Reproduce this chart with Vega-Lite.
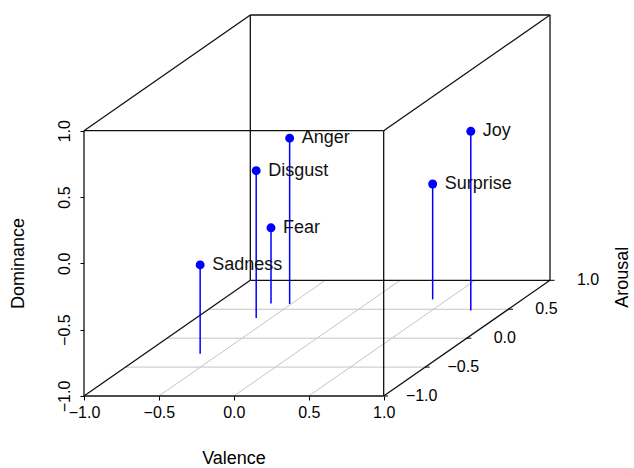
{
  "$schema": "https://vega.github.io/schema/vega-lite/v6.json",
  "autosize": "none",
  "width": 466,
  "height": 381,
  "padding": {"left": 84, "top": 15, "right": 84, "bottom": 72},
  "config": {
    "font": "Liberation Sans",
    "view": {"stroke": null},
    "background": "white"
  },
  "datasets": {
    "emotions": [
      {"name": "Anger", "Valence": -0.51, "Arousal": 0.59, "Dominance": 0.25},
      {"name": "Disgust", "Valence": -0.60, "Arousal": 0.35, "Dominance": 0.11},
      {"name": "Fear", "Valence": -0.64, "Arousal": 0.60, "Dominance": -0.43},
      {"name": "Joy", "Valence": 0.76, "Arousal": 0.48, "Dominance": 0.35},
      {"name": "Sadness", "Valence": -0.63, "Arousal": -0.27, "Dominance": -0.33},
      {"name": "Surprise", "Valence": 0.40, "Arousal": 0.67, "Dominance": -0.13}
    ],
    "edges": [
      {"kind": "grid", "v1": -0.5, "a1": -1, "d1": -1, "v2": -0.5, "a2": 1, "d2": -1},
      {"kind": "grid", "v1": 0, "a1": -1, "d1": -1, "v2": 0, "a2": 1, "d2": -1},
      {"kind": "grid", "v1": 0.5, "a1": -1, "d1": -1, "v2": 0.5, "a2": 1, "d2": -1},
      {"kind": "grid", "v1": -1, "a1": -0.5, "d1": -1, "v2": 1, "a2": -0.5, "d2": -1},
      {"kind": "grid", "v1": -1, "a1": 0, "d1": -1, "v2": 1, "a2": 0, "d2": -1},
      {"kind": "grid", "v1": -1, "a1": 0.5, "d1": -1, "v2": 1, "a2": 0.5, "d2": -1},
      {"kind": "box", "v1": -1, "a1": -1, "d1": -1, "v2": 1, "a2": -1, "d2": -1},
      {"kind": "box", "v1": -1, "a1": -1, "d1": 1, "v2": 1, "a2": -1, "d2": 1},
      {"kind": "box", "v1": -1, "a1": -1, "d1": -1, "v2": -1, "a2": -1, "d2": 1},
      {"kind": "box", "v1": 1, "a1": -1, "d1": -1, "v2": 1, "a2": -1, "d2": 1},
      {"kind": "box", "v1": -1, "a1": -1, "d1": 1, "v2": -1, "a2": 1, "d2": 1},
      {"kind": "box", "v1": 1, "a1": -1, "d1": 1, "v2": 1, "a2": 1, "d2": 1},
      {"kind": "box", "v1": -1, "a1": 1, "d1": 1, "v2": 1, "a2": 1, "d2": 1},
      {"kind": "box", "v1": 1, "a1": 1, "d1": -1, "v2": 1, "a2": 1, "d2": 1},
      {"kind": "box", "v1": 1, "a1": -1, "d1": -1, "v2": 1, "a2": 1, "d2": -1},
      {"kind": "box", "v1": -1, "a1": -1, "d1": -1, "v2": -1, "a2": 1, "d2": -1},
      {"kind": "box", "v1": -1, "a1": 1, "d1": -1, "v2": 1, "a2": 1, "d2": -1},
      {"kind": "box", "v1": -1, "a1": 1, "d1": -1, "v2": -1, "a2": 1, "d2": 1}
    ],
    "aticks": [
      {"a": -1}, {"a": -0.5}, {"a": 0}, {"a": 0.5}, {"a": 1}
    ]
  },
  "layer": [
    {
      "data": {"name": "edges"},
      "transform": [
        {"filter": "datum.kind === 'grid'"},
        {"calculate": "datum.v1 + (datum.a1 + 1) * 0.555", "as": "px"},
        {"calculate": "datum.d1 + (datum.a1 + 1) * 0.436", "as": "py"},
        {"calculate": "datum.v2 + (datum.a2 + 1) * 0.555", "as": "px2"},
        {"calculate": "datum.d2 + (datum.a2 + 1) * 0.436", "as": "py2"}
      ],
      "mark": {"type": "rule", "color": "#c4c4c4", "strokeWidth": 1},
      "encoding": {
        "x": {
          "field": "px", "type": "quantitative",
          "scale": {"domain": [-1, 2.11], "nice": false, "zero": false},
          "axis": {
            "values": [-1, -0.5, 0, 0.5, 1], "format": ".1f",
            "domain": false, "grid": false, "tickSize": 4, "tickColor": "black", "tickWidth": 1,
            "labelFontSize": 16, "labelColor": "black", "labelPadding": 4, "labelFlush": false,
            "title": "Valence", "titleFontSize": 18, "titleFontWeight": "normal", "titleColor": "black",
            "titleX": 149.5, "titleY": 62, "titleAlign": "center", "titleBaseline": "middle"
          }
        },
        "y": {
          "field": "py", "type": "quantitative",
          "scale": {"domain": [-1, 1.872], "nice": false, "zero": false},
          "axis": {
            "values": [-1, -0.5, 0, 0.5, 1], "format": ".1f",
            "domain": false, "grid": false, "tickSize": 4, "tickColor": "black", "tickWidth": 1,
            "labelFontSize": 16, "labelColor": "black", "labelPadding": 8, "labelAngle": 270, "labelFlush": false,
            "title": "Dominance", "titleFontSize": 18, "titleFontWeight": "normal", "titleColor": "black",
            "titleAngle": 270, "titleX": -66, "titleY": 248, "titleAlign": "center", "titleBaseline": "middle"
          }
        },
        "x2": {"field": "px2"},
        "y2": {"field": "py2"}
      }
    },
    {
      "data": {"name": "edges"},
      "transform": [
        {"filter": "datum.kind === 'box'"},
        {"calculate": "datum.v1 + (datum.a1 + 1) * 0.555", "as": "px"},
        {"calculate": "datum.d1 + (datum.a1 + 1) * 0.436", "as": "py"},
        {"calculate": "datum.v2 + (datum.a2 + 1) * 0.555", "as": "px2"},
        {"calculate": "datum.d2 + (datum.a2 + 1) * 0.436", "as": "py2"}
      ],
      "mark": {"type": "rule", "color": "#111111", "strokeWidth": 1.3},
      "encoding": {
        "x": {"field": "px", "type": "quantitative"},
        "y": {"field": "py", "type": "quantitative"},
        "x2": {"field": "px2"},
        "y2": {"field": "py2"}
      }
    },
    {
      "data": {"name": "aticks"},
      "transform": [
        {"calculate": "1 + (datum.a + 1) * 0.555", "as": "px"},
        {"calculate": "-1 + (datum.a + 1) * 0.436", "as": "py"},
        {"calculate": "datum.px + 0.03", "as": "px2"}
      ],
      "mark": {"type": "rule", "color": "black", "strokeWidth": 1},
      "encoding": {
        "x": {"field": "px", "type": "quantitative"},
        "y": {"field": "py", "type": "quantitative"},
        "x2": {"field": "px2"}
      }
    },
    {
      "data": {"name": "aticks"},
      "transform": [
        {"calculate": "1 + (datum.a + 1) * 0.555", "as": "px"},
        {"calculate": "-1 + (datum.a + 1) * 0.436", "as": "py"}
      ],
      "mark": {"type": "text", "fontSize": 16, "color": "black", "align": "center", "baseline": "middle", "dx": 38},
      "encoding": {
        "x": {"field": "px", "type": "quantitative"},
        "y": {"field": "py", "type": "quantitative"},
        "text": {"field": "a", "type": "quantitative", "format": ".1f"}
      }
    },
    {
      "data": {"values": [{"t": "Arousal"}]},
      "mark": {"type": "text", "fontSize": 18, "color": "black", "angle": 270, "align": "center", "baseline": "middle"},
      "encoding": {
        "x": {"datum": 2.598, "type": "quantitative"},
        "y": {"datum": -0.105, "type": "quantitative"},
        "text": {"field": "t"}
      }
    },
    {
      "data": {"name": "emotions"},
      "transform": [
        {"calculate": "datum.Valence + (datum.Arousal + 1) * 0.555", "as": "px"},
        {"calculate": "datum.Dominance + (datum.Arousal + 1) * 0.436", "as": "py"},
        {"calculate": "-1 + (datum.Arousal + 1) * 0.436", "as": "py2"}
      ],
      "mark": {"type": "rule", "color": "#0000ff", "strokeWidth": 1.5},
      "encoding": {
        "x": {"field": "px", "type": "quantitative"},
        "y": {"field": "py", "type": "quantitative"},
        "y2": {"field": "py2"}
      }
    },
    {
      "data": {"name": "emotions"},
      "transform": [
        {"calculate": "datum.Valence + (datum.Arousal + 1) * 0.555", "as": "px"},
        {"calculate": "datum.Dominance + (datum.Arousal + 1) * 0.436", "as": "py"}
      ],
      "mark": {"type": "point", "filled": true, "shape": "circle", "size": 80, "color": "#0000ff", "opacity": 1},
      "encoding": {
        "x": {"field": "px", "type": "quantitative"},
        "y": {"field": "py", "type": "quantitative"}
      }
    },
    {
      "data": {"name": "emotions"},
      "transform": [
        {"calculate": "datum.Valence + (datum.Arousal + 1) * 0.555", "as": "px"},
        {"calculate": "datum.Dominance + (datum.Arousal + 1) * 0.436", "as": "py"}
      ],
      "mark": {"type": "text", "fontSize": 18, "color": "#111111", "align": "left", "baseline": "middle", "dx": 12},
      "encoding": {
        "x": {"field": "px", "type": "quantitative"},
        "y": {"field": "py", "type": "quantitative"},
        "text": {"field": "name"}
      }
    }
  ]
}
